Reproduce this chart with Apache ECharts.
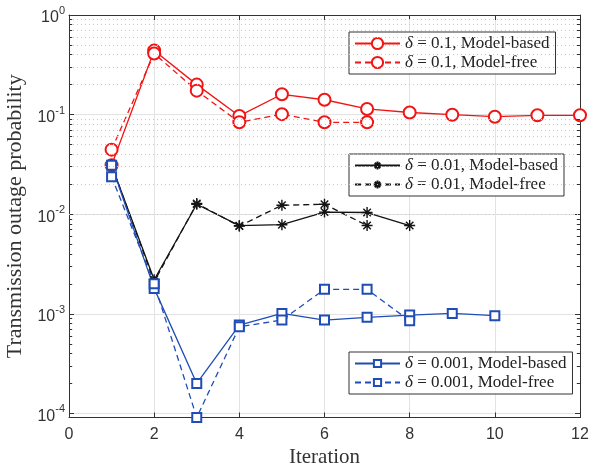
<!DOCTYPE html>
<html>
<head>
<meta charset="utf-8">
<script src="https://cdn.jsdelivr.net/npm/echarts@6/dist/echarts.min.js"></script>
<style>
  html, body { margin: 0; padding: 0; background: #fff; overflow: hidden; }
  #chart { width: 589px; height: 464px; }
</style>
</head>
<body>
<div id="chart"></div>
<script>
// Outage probability versus iteration for three outage targets (log scale).
const iterations = [1, 2, 3, 4, 5, 6, 7, 8, 9, 10, 11, 12];

const red_modelBased   = [0.031, 0.44, 0.20, 0.097, 0.16, 0.141, 0.114, 0.105, 0.0998, 0.0953, 0.0984, 0.0984];
const red_modelFree    = [0.0445, 0.41, 0.174, 0.0837, 0.101, 0.0837, 0.0837];
const black_modelBased = [0.031, 0.0022, 0.0126, 0.00767, 0.00785, 0.0105, 0.0104, 0.0077];
const black_modelFree  = [0.031, 0.0021, 0.0128, 0.0076, 0.0123, 0.0126, 0.0077];
const blue_modelBased  = [0.031, 0.0018, 0.0002, 0.00077, 0.00101, 0.000866, 0.000922, 0.000972, 0.00101, 0.000957];
const blue_modelFree   = [0.0238, 0.0020, 0.000091, 0.00074, 0.000866, 0.00176, 0.00176, 0.00085];

const seriesNames = [
  'δ = 0.1, Model-based', 'δ = 0.1, Model-free',
  'δ = 0.01, Model-based', 'δ = 0.01, Model-free',
  'δ = 0.001, Model-based', 'δ = 0.001, Model-free'
];

// Axis ranges and minor (2..9 × 10^k) gridline positions
const xMin = 0, xMax = 12, xStep = 2;
const yMin = 9.1e-5, yMax = 1;
const minorMantissas = [2, 3, 4, 5, 6, 7, 8, 9];
const minorDecades = [-5, -4, -3, -2, -1];

const RED = '#f21414', BLACK = '#141414', BLUE = '#1f4db5';
const SERIF = '"Liberation Serif", "Times New Roman", serif';
const SANS = '"Liberation Sans", Arial, sans-serif';
const STAR = 'path://M0,5L10,5M5,0L5,10M1.6,1.6L8.4,8.4M1.6,8.4L8.4,1.6';

function pairs(values) {
  return values.map((v, i) => [iterations[i], v]);
}

const minorValues = [];
minorDecades.forEach(k => minorMantissas.forEach(m => {
  const v = m * Math.pow(10, k);
  if (v > yMin && v < yMax) minorValues.push(v);
}));

const minorGrid = minorValues.map(v => ({ yAxis: v }));
const tickLen = 0.075;
const minorTicks = [];
minorValues.forEach(v => {
  minorTicks.push([{ coord: [xMin, v] }, { coord: [xMin + tickLen, v] }]);
  minorTicks.push([{ coord: [xMax - tickLen, v] }, { coord: [xMax, v] }]);
});

function lineSeries(name, values, color, dashed, symbol, size) {
  return {
    name: name,
    type: 'line',
    data: pairs(values),
    symbol: symbol,
    symbolSize: size,
    showAllSymbol: true,
    lineStyle: { color: color, width: 1.3, type: dashed ? [6, 4] : 'solid' },
    itemStyle: { color: color, borderColor: color, borderWidth: 1.4 },
    emphasis: { disabled: true },
    z: 3
  };
}

const legendFormatter = name => '{i|δ}' + name.slice(1);
function legendBox(names, top, itemHeight) {
  return {
    data: names,
    orient: 'vertical',
    left: 349,
    top: top,
    itemWidth: 45,
    itemHeight: itemHeight,
    itemGap: 0,
    padding: [2, 6, 2, 5],
    backgroundColor: '#fff',
    borderColor: '#333',
    borderWidth: 1,
    borderRadius: 0,
    selectedMode: false,
    formatter: legendFormatter,
    textStyle: {
      fontFamily: SERIF, fontSize: 17, color: '#222', lineHeight: 19,
      rich: { i: { fontFamily: SERIF, fontSize: 17, fontStyle: 'italic', color: '#222', lineHeight: 19 } }
    }
  };
}

const yLabel = {
  margin: 4,
  showMinLabel: false,
  formatter: v => '{b|10}{s|' + Math.round(Math.log10(v)) + '}',
  rich: {
    b: { fontFamily: SANS, fontSize: 16, color: '#333', lineHeight: 16, padding: [6, 0, 0, 0] },
    s: { fontFamily: SANS, fontSize: 11, color: '#333', lineHeight: 11, padding: [0, 0, 8, 0] }
  }
};

const option = {
  animation: false,
  backgroundColor: '#fff',
  grid: { left: 69, right: 9, top: 15, bottom: 46.5, containLabel: false, outerBoundsMode: 'none' },
  xAxis: [{
    type: 'value', min: xMin, max: xMax, interval: xStep,
    name: 'Iteration', nameLocation: 'middle', nameGap: 26,
    nameTextStyle: { fontFamily: SERIF, fontSize: 21, color: '#333' },
    axisLine: { show: true, onZero: false, lineStyle: { color: '#333', width: 1 } },
    axisTick: { show: true, inside: true, length: 5, lineStyle: { color: '#333' } },
    axisLabel: { fontFamily: SANS, fontSize: 16, color: '#333', margin: 9 },
    splitLine: { show: true, lineStyle: { color: '#e3e3e3', width: 1 } }
  }, {
    type: 'value', min: xMin, max: xMax, interval: xStep, position: 'top',
    axisLine: { show: true, onZero: false, lineStyle: { color: '#333', width: 1 } },
    axisTick: { show: true, inside: true, length: 5, lineStyle: { color: '#333' } },
    axisLabel: { show: false },
    splitLine: { show: false }
  }],
  yAxis: [{
    type: 'log', logBase: 10, min: yMin, max: yMax,
    name: 'Transmission outage probability', nameLocation: 'middle', nameGap: 43,
    nameTextStyle: { fontFamily: SERIF, fontSize: 22, color: '#333' },
    axisLine: { show: true, onZero: false, lineStyle: { color: '#333', width: 1 } },
    axisTick: { show: true, inside: true, length: 5, lineStyle: { color: '#333' } },
    axisLabel: yLabel,
    splitLine: { show: true, lineStyle: { color: '#e3e3e3', width: 1 } }
  }, {
    type: 'log', logBase: 10, min: yMin, max: yMax, position: 'right',
    axisLine: { show: true, onZero: false, lineStyle: { color: '#333', width: 1 } },
    axisTick: { show: true, inside: true, length: 5, lineStyle: { color: '#333' } },
    axisLabel: { show: false },
    splitLine: { show: false }
  }],
  legend: [
    legendBox(seriesNames.slice(0, 2), 32, 14),
    legendBox(seriesNames.slice(2, 4), 154, 10),
    legendBox(seriesNames.slice(4, 6), 352, 9)
  ],
  series: [
    {
      name: 'minor-grid',
      type: 'scatter',
      data: [],
      silent: true,
      z: 1,
      markLine: {
        silent: true, symbol: 'none', animation: false,
        label: { show: false },
        lineStyle: { color: '#c8c8c8', width: 1, type: [1, 3] },
        data: minorGrid
      }
    },
    {
      name: 'minor-ticks',
      type: 'scatter',
      data: [],
      silent: true,
      z: 2,
      markLine: {
        silent: true, symbol: 'none', animation: false,
        label: { show: false },
        lineStyle: { color: '#333', width: 1, type: 'solid' },
        data: minorTicks
      }
    },
    lineSeries(seriesNames[0], red_modelBased, RED, false, 'emptyCircle', 12),
    lineSeries(seriesNames[1], red_modelFree, RED, true, 'emptyCircle', 12),
    lineSeries(seriesNames[2], black_modelBased, BLACK, false, STAR, 11),
    lineSeries(seriesNames[3], black_modelFree, BLACK, true, STAR, 11),
    lineSeries(seriesNames[4], blue_modelBased, BLUE, false, 'emptyRect', 9),
    lineSeries(seriesNames[5], blue_modelFree, BLUE, true, 'emptyRect', 9)
  ]
};

const chart = echarts.init(document.getElementById('chart'), null, { renderer: 'canvas' });
chart.setOption(option);
</script>
</body>
</html>
